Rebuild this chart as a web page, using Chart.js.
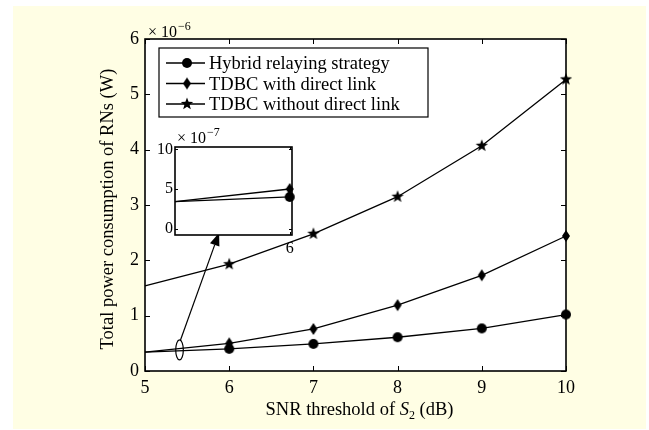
<!DOCTYPE html>
<html>
<head>
<meta charset="utf-8">
<script src="https://cdn.jsdelivr.net/npm/chart.js@4.4.1/dist/chart.umd.min.js"></script>
<style>
    html, body { margin: 0; padding: 0; background: #fff; }
    #frame { position: absolute; left: 13px; top: 6px; width: 633px; height: 423px; background: #fffee4; }
    #main { position: absolute; left: 0; top: 0; }
    #inset { position: absolute; left: 145px; top: 125px; }
</style>
</head>
<body>
<div id="frame"></div>
<canvas id="main" width="649" height="430"></canvas>
<canvas id="inset" width="160" height="135"></canvas>
<script>
// values in units of 1e-6 W
const snr = [5, 6, 7, 8, 9, 10];
const hybrid = [0.34, 0.40, 0.49, 0.61, 0.77, 1.02];
const tdbcDirect = [0.34, 0.50, 0.76, 1.19, 1.73, 2.44];
const tdbcNoDirect = [1.54, 1.93, 2.48, 3.15, 4.07, 5.27];
const seriesNames = ['Hybrid relaying strategy', 'TDBC with direct link', 'TDBC without direct link'];
const xTicks = [5, 6, 7, 8, 9, 10];
const yTicks = [0, 1, 2, 3, 4, 5, 6];
const insetYTicks = [0, 5, 10];
const insetXTicks = [6];
const insetPoints = 2; // the inset shows SNR 5..6 only

const FONT = "'Liberation Serif', 'Times New Roman', serif";

function makeMarker(kind) {
    const c = document.createElement('canvas');
    c.width = 16;
    c.height = 16;
    const g = c.getContext('2d');
    g.fillStyle = '#000';
    g.translate(8, 8);
    g.beginPath();
    if (kind === 'circle') {
        g.arc(0, 0, 5, 0, Math.PI * 2);
    } else if (kind === 'diamond') {
        g.moveTo(0, -6);
        g.lineTo(4, 0);
        g.lineTo(0, 6);
        g.lineTo(-4, 0);
        g.closePath();
    } else {
        for (let i = 0; i < 10; i++) {
            const r = i % 2 ? 2.7 : 6.5;
            const a = -Math.PI / 2 + i * Math.PI / 5;
            g.lineTo(r * Math.cos(a), r * Math.sin(a));
        }
        g.closePath();
    }
    g.fill();
    return c;
}

const markers = [makeMarker('circle'), makeMarker('diamond'), makeMarker('star')];
const seriesValues = [hybrid, tdbcDirect, tdbcNoDirect];

function points(values, scale, count) {
    return snr.slice(0, count).map((s, i) => ({ x: s, y: values[i] * scale }));
}

function makeDataset(idx, scale, count) {
    const n = count || snr.length;
    return {
        label: seriesNames[idx],
        data: points(seriesValues[idx], scale, n),
        borderColor: '#000',
        borderWidth: 1.3,
        tension: 0,
        pointStyle: markers[idx],
        // no marker at the first point
        pointRadius: snr.slice(0, n).map((s, i) => (i === 0 ? 0 : 5)),
        pointBackgroundColor: '#000',
        pointBorderColor: '#000',
        clip: false,
    };
}

// white plot area, box and inward ticks like the original
function drawAxesBox(chart, tickLen, lw) {
    const { ctx, chartArea: a, scales } = chart;
    ctx.save();
    ctx.strokeStyle = '#000';
    ctx.lineWidth = lw;
    ctx.strokeRect(a.left, a.top, a.right - a.left, a.bottom - a.top);
    ctx.lineWidth = 1;
    ctx.beginPath();
    scales.x.ticks.forEach((t) => {
        const px = Math.round(scales.x.getPixelForValue(t.value)) + 0.5;
        ctx.moveTo(px, a.bottom);
        ctx.lineTo(px, a.bottom - tickLen);
        ctx.moveTo(px, a.top);
        ctx.lineTo(px, a.top + tickLen);
    });
    scales.y.ticks.forEach((t) => {
        const py = Math.round(scales.y.getPixelForValue(t.value)) + 0.5;
        ctx.moveTo(a.left, py);
        ctx.lineTo(a.left + tickLen, py);
        ctx.moveTo(a.right, py);
        ctx.lineTo(a.right - tickLen, py);
    });
    ctx.stroke();
    ctx.restore();
}

function drawExponent(ctx, x, y, exp, size) {
    ctx.save();
    ctx.fillStyle = '#000';
    ctx.textBaseline = 'alphabetic';
    ctx.textAlign = 'left';
    ctx.font = size + 'px ' + FONT;
    const base = '\u00d7 10';
    ctx.fillText(base, x, y);
    const w = ctx.measureText(base).width;
    ctx.font = Math.round(size * 0.72) + 'px ' + FONT;
    ctx.fillText(exp, x + w + 1, y - size * 0.45);
    ctx.restore();
}

const whiteArea = {
    id: 'whiteArea',
    beforeDraw(chart) {
        const { ctx, chartArea: a } = chart;
        ctx.save();
        ctx.fillStyle = '#fff';
        ctx.fillRect(a.left, a.top, a.right - a.left, a.bottom - a.top);
        ctx.restore();
    },
};

const mainDecor = {
    id: 'mainDecor',
    afterDatasetsDraw(chart) {
        const { ctx, chartArea: a, scales: { x, y } } = chart;

        // legend
        const lx = a.left + 14;
        const ly = a.top + 9;
        const lw = 269;
        const lh = 69;
        ctx.save();
        ctx.fillStyle = '#fff';
        ctx.fillRect(lx, ly, lw, lh);
        ctx.strokeStyle = '#000';
        ctx.lineWidth = 1.2;
        ctx.strokeRect(lx, ly, lw, lh);
        ctx.font = '18.5px ' + FONT;
        ctx.fillStyle = '#000';
        ctx.textBaseline = 'alphabetic';
        seriesNames.forEach((name, i) => {
            const ry = ly + 15 + i * 20.5;
            ctx.beginPath();
            ctx.lineWidth = 1.3;
            ctx.moveTo(lx + 7, ry);
            ctx.lineTo(lx + 46, ry);
            ctx.stroke();
            ctx.drawImage(markers[i], lx + 28 - 8, ry - 8);
            ctx.fillText(name, lx + 50, ry + 6);
        });

        // ellipse around the zoomed region and arrow to the inset
        const cx = x.getPixelForValue(5.41);
        const cy = y.getPixelForValue(0.38);
        ctx.lineWidth = 1.2;
        ctx.beginPath();
        ctx.ellipse(cx, cy, 3.8, 10, 0, 0, Math.PI * 2);
        ctx.stroke();
        const tx = x.getPixelForValue(5.88);
        const ty = y.getPixelForValue(2.5);
        const sx = cx + 1;
        const sy = cy - 10;
        const ang = Math.atan2(ty - sy, tx - sx);
        const hl = 13;
        const hw = 5;
        const bx = tx - hl * Math.cos(ang);
        const by = ty - hl * Math.sin(ang);
        ctx.beginPath();
        ctx.moveTo(sx, sy);
        ctx.lineTo(bx, by);
        ctx.stroke();
        ctx.beginPath();
        ctx.moveTo(tx, ty);
        ctx.lineTo(bx + hw * Math.sin(ang), by - hw * Math.cos(ang));
        ctx.lineTo(bx - hw * Math.sin(ang), by + hw * Math.cos(ang));
        ctx.closePath();
        ctx.fill();
        ctx.restore();
    },
    afterDraw(chart) {
        const { ctx, chartArea: a } = chart;
        drawAxesBox(chart, 5, 1.6);
        drawExponent(ctx, a.left + 3, a.top - 2, '\u22126', 16);

        ctx.save();
        ctx.fillStyle = '#000';
        ctx.textBaseline = 'alphabetic';
        // x title with italic S and subscript 2
        const parts = [
            { t: 'SNR threshold of ', f: '18.5px ' + FONT, dy: 0 },
            { t: 'S', f: 'italic 18.5px ' + FONT, dy: 0 },
            { t: '2', f: '12px ' + FONT, dy: 4 },
            { t: ' (dB)', f: '18.5px ' + FONT, dy: 0 },
        ];
        let total = 0;
        parts.forEach((p) => {
            ctx.font = p.f;
            p.w = ctx.measureText(p.t).width;
            total += p.w;
        });
        let px = (a.left + a.right) / 2 - total / 2 + 4;
        parts.forEach((p) => {
            ctx.font = p.f;
            ctx.fillText(p.t, px, 415 + p.dy);
            px += p.w;
        });

        // y title
        ctx.translate(113, (a.top + a.bottom) / 2 + 4);
        ctx.rotate(-Math.PI / 2);
        ctx.textAlign = 'center';
        ctx.font = '18.5px ' + FONT;
        ctx.fillText('Total power consumption of RNs (W)', 0, 0);
        ctx.restore();
    },
};

new Chart(document.getElementById('main'), {
    type: 'line',
    data: {
        datasets: [makeDataset(0, 1), makeDataset(1, 1), makeDataset(2, 1)],
    },
    options: {
        responsive: false,
        animation: false,
        events: [],
        layout: { padding: { top: 39, right: 83, left: 0, bottom: 0 } },
        plugins: { legend: { display: false }, tooltip: { enabled: false } },
        scales: {
            x: {
                type: 'linear',
                min: 5,
                max: 10,
                afterBuildTicks(s) { s.ticks = xTicks.map((v) => ({ value: v })); },
                afterFit(s) { s.height = 59; },
                grid: { display: false, drawTicks: false },
                border: { display: false },
                ticks: { color: '#000', padding: 6, font: { family: FONT, size: 18 } },
            },
            y: {
                min: 0,
                max: 6,
                afterBuildTicks(s) { s.ticks = yTicks.map((v) => ({ value: v })); },
                afterFit(s) { s.width = 145; },
                grid: { display: false, drawTicks: false },
                border: { display: false },
                ticks: { color: '#000', padding: 6, font: { family: FONT, size: 18 } },
            },
        },
    },
    plugins: [whiteArea, mainDecor],
});

// zoomed inset, values in units of 1e-7 W
const insetDecor = {
    id: 'insetDecor',
    afterDraw(chart) {
        const { ctx, chartArea: a } = chart;
        drawAxesBox(chart, 3, 1.6);
        drawExponent(ctx, a.left + 2, a.top - 4, '\u22127', 16);
    },
};

new Chart(document.getElementById('inset'), {
    type: 'line',
    data: {
        datasets: [makeDataset(0, 10, insetPoints), makeDataset(1, 10, insetPoints)],
    },
    options: {
        responsive: false,
        animation: false,
        events: [],
        layout: { padding: { top: 22, right: 13, left: 0, bottom: 0 } },
        plugins: { legend: { display: false }, tooltip: { enabled: false } },
        scales: {
            x: {
                type: 'linear',
                min: 5,
                max: 6.02,
                afterBuildTicks(s) { s.ticks = insetXTicks.map((v) => ({ value: v })); },
                afterFit(s) { s.height = 25; },
                grid: { display: false, drawTicks: false },
                border: { display: false },
                ticks: { color: '#000', padding: 4, font: { family: FONT, size: 16 } },
            },
            y: {
                min: -0.8,
                max: 10.3,
                afterBuildTicks(s) { s.ticks = insetYTicks.map((v) => ({ value: v })); },
                afterFit(s) { s.width = 30; },
                grid: { display: false, drawTicks: false },
                border: { display: false },
                ticks: { color: '#000', padding: 2, font: { family: FONT, size: 16 } },
            },
        },
    },
    plugins: [whiteArea, insetDecor],
});
</script>
</body>
</html>
